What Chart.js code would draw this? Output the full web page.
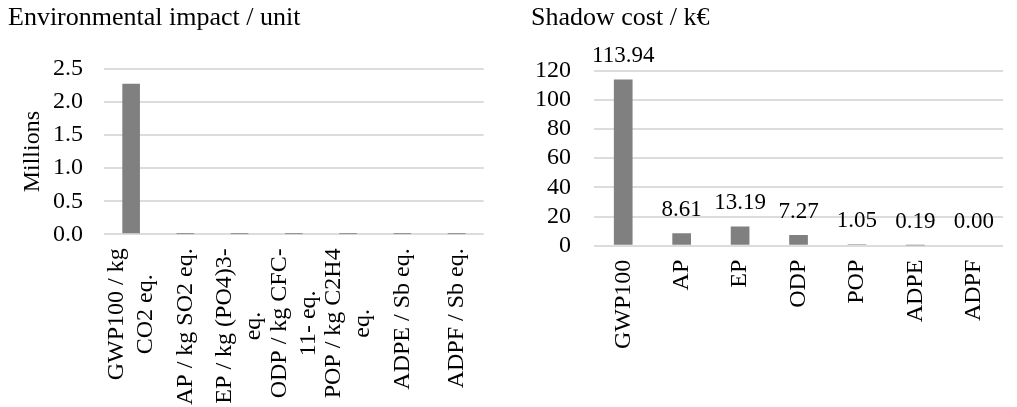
<!DOCTYPE html>
<html>
<head>
<meta charset="utf-8">
<title>Environmental impact and shadow cost</title>
<script src="https://cdn.jsdelivr.net/npm/chart.js@4.4.1/dist/chart.umd.min.js"></script>
<style>
  html, body { margin: 0; padding: 0; background: #ffffff; }
  #wrap { position: relative; width: 1017px; height: 407px; overflow: hidden; }
  .panel { position: absolute; top: 0; height: 407px; }
  #impactPanel { left: 0; width: 500px; }
  #costPanel { left: 500px; width: 517px; }
  canvas { display: block; }
</style>
</head>
<body>
<div id="wrap">
  <div class="panel" id="impactPanel"><canvas id="impactChart" width="500" height="407"></canvas></div>
  <div class="panel" id="costPanel"><canvas id="costChart" width="517" height="407"></canvas></div>
</div>
<script>
// ---- Environmental impact per unit (kg eq.) ----
const impactCategories = [
  ['GWP100 / kg', 'CO2 eq.'],
  'AP / kg SO2 eq.',
  ['EP / kg (PO4)3-', 'eq.'],
  ['ODP / kg CFC-', '11- eq.'],
  ['POP / kg C2H4', 'eq.'],
  'ADPE / Sb eq.',
  'ADPF / Sb eq.'
];
const impactValues = [2278800, 2152, 1466, 242, 525, 1188, 20];
const impactTicksMillions = [0.0, 0.5, 1.0, 1.5, 2.0, 2.5];

// ---- Shadow cost (k€) ----
const costCategories = ['GWP100', 'AP', 'EP', 'ODP', 'POP', 'ADPE', 'ADPF'];
const costValues = [113.94, 8.61, 13.19, 7.27, 1.05, 0.19, 0.00];
const costTicks = [0, 20, 40, 60, 80, 100, 120];

const SERIF = "'Liberation Serif', 'Times New Roman', Times, serif";
const BAR_COLOR = '#808080';
const GRID_COLOR = '#dcdcdc';

// Wrapped category labels: center each line along the text and center the
// block of lines on its tick.
const centerWrappedLabels = {
  id: 'centerWrappedLabels',
  beforeDraw(chart) {
    const scale = chart.scales.x;
    const items = scale.getLabelItems();
    if (items._centered) return;
    const ctx = chart.ctx;
    items.forEach(item => {
      const lines = Array.isArray(item.label) ? item.label : [item.label];
      ctx.save();
      ctx.font = item.font.string;
      const maxW = Math.max(...lines.map(l => ctx.measureText(l).width));
      ctx.restore();
      const lh = item.font.lineHeight;
      const t = item.options.translation;
      item.options.translation = [t[0] - (lines.length - 1) * lh / 2, t[1] + maxW / 2];
      item.options.textAlign = 'center';
    });
    items._centered = true;
  }
};

// Value labels above each bar
const valueLabels = {
  id: 'valueLabels',
  afterDatasetsDraw(chart) {
    const { ctx } = chart;
    const meta = chart.getDatasetMeta(0);
    const values = chart.data.datasets[0].data;
    ctx.save();
    ctx.font = '23px ' + SERIF;
    ctx.fillStyle = '#000000';
    ctx.textAlign = 'center';
    ctx.textBaseline = 'middle';
    meta.data.forEach((bar, i) => {
      ctx.fillText(values[i].toFixed(2), bar.x, bar.y - 23.5);
    });
    ctx.restore();
  }
};

function xAxis(height) {
  return {
    grid: { display: false, drawTicks: false },
    border: { display: false },
    ticks: {
      color: '#000000',
      font: { family: SERIF, size: 24 },
      minRotation: 90,
      maxRotation: 90,
      autoSkip: false,
      padding: 14
    },
    afterFit: s => { s.height = height; }
  };
}

function titleOptions(text, bottomPad) {
  return {
    display: true,
    text: text,
    align: 'start',
    color: '#000000',
    font: { family: SERIF, size: 26, weight: 'normal' },
    padding: { top: 2.4, bottom: bottomPad }
  };
}

// Left panel: environmental impact
new Chart(document.getElementById('impactChart'), {
  type: 'bar',
  data: {
    labels: impactCategories,
    datasets: [{
      data: impactValues,
      backgroundColor: BAR_COLOR,
      borderWidth: 0,
      barPercentage: 0.325,
      categoryPercentage: 1
    }]
  },
  options: {
    responsive: false,
    animation: false,
    events: [],
    layout: { padding: { left: 8, right: 9, top: 0, bottom: 0 } },
    plugins: {
      legend: { display: false },
      tooltip: { enabled: false },
      title: titleOptions('Environmental impact / unit', 35.4)
    },
    scales: {
      x: xAxis(172.7),
      y: {
        min: impactTicksMillions[0] * 1e6,
        max: impactTicksMillions[impactTicksMillions.length - 1] * 1e6,
        afterBuildTicks: s => { s.ticks = impactTicksMillions.map(v => ({ value: v * 1e6 })); },
        grid: { color: GRID_COLOR, lineWidth: 2, drawTicks: false },
        border: { display: false },
        ticks: {
          color: '#000000',
          font: { family: SERIF, size: 24 },
          padding: 21,
          autoSkip: false,
          callback: v => (v / 1e6).toFixed(1)
        },
        title: {
          display: true,
          text: 'Millions',
          color: '#000000',
          font: { family: SERIF, size: 24 },
          padding: { top: 10.6, bottom: 0 }
        },
        afterFit: s => { s.width = 96; }
      }
    }
  },
  plugins: [centerWrappedLabels]
});

// Right panel: shadow cost
new Chart(document.getElementById('costChart'), {
  type: 'bar',
  data: {
    labels: costCategories,
    datasets: [{
      data: costValues,
      backgroundColor: BAR_COLOR,
      borderWidth: 0,
      barPercentage: 0.32,
      categoryPercentage: 1
    }]
  },
  options: {
    responsive: false,
    animation: false,
    events: [],
    layout: { padding: { left: 31, right: 5, top: 0, bottom: 0 } },
    plugins: {
      legend: { display: false },
      tooltip: { enabled: false },
      title: titleOptions('Shadow cost / k€', 37.1)
    },
    scales: {
      x: xAxis(161.3),
      y: {
        min: costTicks[0],
        max: costTicks[costTicks.length - 1],
        afterBuildTicks: s => { s.ticks = costTicks.map(v => ({ value: v })); },
        grid: { color: GRID_COLOR, lineWidth: 2, drawTicks: false },
        border: { display: false },
        ticks: {
          color: '#000000',
          font: { family: SERIF, size: 24 },
          padding: 23,
          autoSkip: false,
          callback: v => String(v)
        },
        afterFit: s => { s.width = 63; }
      }
    }
  },
  plugins: [centerWrappedLabels, valueLabels]
});
</script>
</body>
</html>
